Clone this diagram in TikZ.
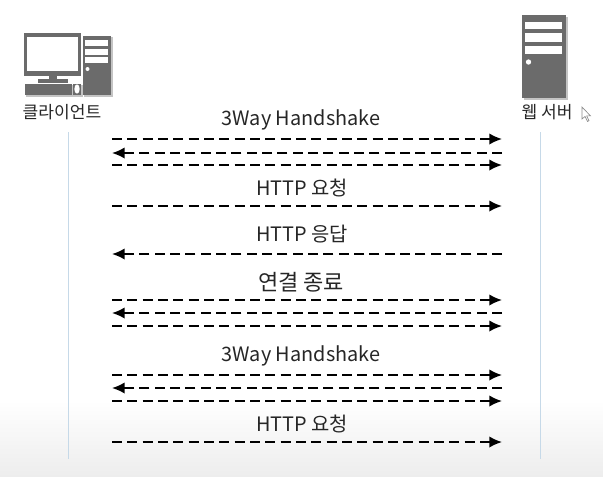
\documentclass[tikz,border=0pt]{standalone}
\usepackage{fontspec}
\setmainfont{Noto Sans CJK KR}
\usetikzlibrary{arrows.meta}
\definecolor{icongray}{HTML}{6B6B6B}
\definecolor{iconshade}{HTML}{C4C4C4}
\definecolor{lifeblue}{HTML}{C6D9E8}
\definecolor{labelgray}{HTML}{262626}
\tikzset{
  msg/.style={draw=black,line width=1.25pt,dash pattern=on 7.5pt off 4pt,-{Latex[length=9.5pt,width=8.5pt]}},
  lifeline/.style={draw=lifeblue,line width=0.7pt},
  msglabel/.style={font=\fontsize{14.9pt}{16pt}\selectfont,text=labelgray,inner sep=0pt},
  hostlabel/.style={font=\fontsize{12.8pt}{14pt}\selectfont,text=labelgray,inner sep=0pt},
  iconpart/.style={fill=icongray,draw=none},
  iconhole/.style={fill=white,draw=none}
}
\begin{document}
\begin{tikzpicture}[x=0.75pt,y=-0.75pt]

  % Canvas
  \useasboundingbox (0,0) rectangle (603,476);
  \fill[white] (0,0) rectangle (603,400);
  \shade[top color=white,bottom color=black!7] (0,400) rectangle (603,476);

  % Client icon
  \fill[iconshade] (84,37) rectangle (113,97);
  \fill[iconshade] (26,85) rectangle (83,97);
  \fill[iconpart] (24,33) rectangle (81,76);
  \fill[iconhole] (27,37) rectangle (78,71);
  \fill[iconpart] (49,76) rectangle (57,81);
  \fill[iconpart] (38,79) rectangle (68,83);
  \fill[iconpart] (25,84) rectangle (72,95);
  \fill[iconpart] (73,84) rectangle (81,95);
  \fill[iconhole] (77,89) ellipse (2pt and 3.5pt);
  \fill[iconpart] (83,36) rectangle (111,95);
  \fill[iconhole] (85,40) rectangle (108,46);
  \fill[iconhole] (85,49) rectangle (108,55);
  \fill[iconhole] (85,57) rectangle (108,63);
  \fill[iconhole] (87.5,69) circle (1.5pt);

  % Server icon
  \fill[iconshade] (524,17) rectangle (568,100);
  \fill[iconpart] (522,15) rectangle (566,98);
  \fill[iconhole] (525,22) rectangle (562,29);
  \fill[iconhole] (525,33) rectangle (562,42);
  \fill[iconhole] (525,46) rectangle (562,54);
  \fill[iconhole] (528.5,62) circle (2pt);

  % Hosts
  \node[hostlabel] (client) at (62,112) {클라이언트};
  \node[hostlabel] (server) at (547,112) {웹 서버};

  % Lifelines
  \coordinate (clienttop) at (68,132);
  \coordinate (clientend) at (68,459);
  \coordinate (servertop) at (540,132);
  \coordinate (serverend) at (540,459);
  \draw[lifeline] (clienttop) -- (clientend);
  \draw[lifeline] (servertop) -- (serverend);

  % Arrow ends
  \foreach \name/\ypos in {a/139,b/153,c/165,d/206,e/254,f/300,g/313,h/326,i/375,j/388,k/401,l/442} {
    \coordinate (c\name) at (112,\ypos);
    \coordinate (s\name) at (502,\ypos);
  }

  % Labels
  \node[msglabel] (hello1) at (301,120) {3Way Handshake};
  \node[msglabel] (req1)   at (302,188) {HTTP 요청};
  \node[msglabel] (resp)   at (302,234) {HTTP 응답};
  \node[msglabel,font=\fontsize{16.5pt}{18pt}\selectfont] (close) at (301,282) {연결 종료};
  \node[msglabel] (hello2) at (301,356) {3Way Handshake};
  \node[msglabel] (req2)   at (302,424) {HTTP 요청};

  % Messages
  \foreach \name in {a,c,d,f,h,i,k,l}
    \draw[msg] (c\name) -- (s\name);
  \foreach \name in {b,e,g,j}
    \draw[msg] (s\name) -- (c\name);

  % Pointer
  \coordinate (ptr) at (582,107);
  \draw[black!45,fill=white,line width=0.5pt] (ptr) -- ++(0,12) -- ++(3,-2.5) -- ++(2.5,5) -- ++(1.5,-0.8) -- ++(-2.3,-4.8) -- ++(3.8,0) -- cycle;

\end{tikzpicture}
\end{document}
